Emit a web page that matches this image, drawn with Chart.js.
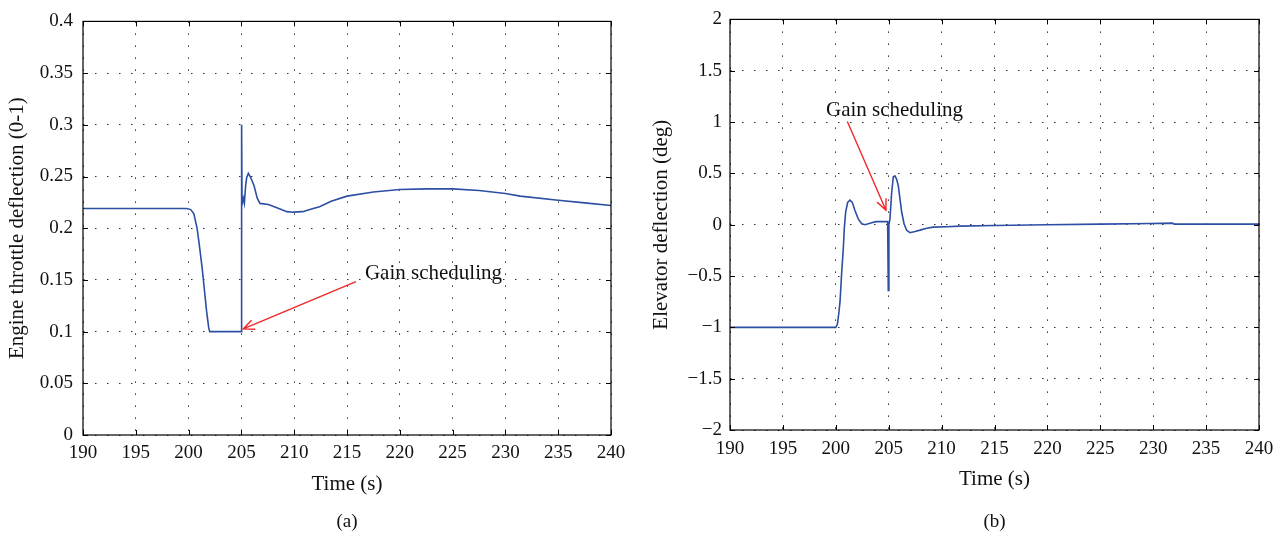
<!DOCTYPE html>
<html>
<head>
<meta charset="utf-8">
<script src="https://cdn.jsdelivr.net/npm/chart.js@4/dist/chart.umd.min.js"></script>
<style>
  body { margin: 0; background: #fff; }
  .panel { position: absolute; top: 0; width: 642px; height: 538px; }
</style>
</head>
<body>
<div class="panel" style="left:0"><canvas id="chartA" width="642" height="538"></canvas></div>
<div class="panel" style="left:642px"><canvas id="chartB" width="642" height="538"></canvas></div>
<script>
// (a) engine throttle deflection
const timeA = [190, 199.8, 200.2, 200.5, 200.8, 201.0, 201.3, 201.5, 201.7, 201.9, 202.0, 205.0,
  205.02, 205.06, 205.18, 205.28, 205.4, 205.5, 205.66, 205.88, 206.2, 206.5, 206.76, 207.55,
  208.3, 209.3, 209.9, 210.8, 211.8, 212.4, 213.5, 215, 217.5, 220, 222.5, 225, 227.5, 230,
  231.4, 235, 237.5, 240];
const throttle = [0.219, 0.219, 0.218, 0.214, 0.200, 0.185, 0.160, 0.140, 0.120, 0.104, 0.100, 0.100,
  0.300, 0.223, 0.229, 0.224, 0.241, 0.249, 0.253, 0.249, 0.241, 0.229, 0.224, 0.223,
  0.220, 0.216, 0.2155, 0.216, 0.219, 0.2207, 0.226, 0.231, 0.235, 0.2375, 0.238, 0.238, 0.2365, 0.2335,
  0.231, 0.227, 0.2245, 0.222];

// (b) elevator deflection
const timeB = [190, 200.0, 200.15, 200.3, 200.4, 200.56, 200.71, 200.8, 200.93, 201.12, 201.34, 201.56,
  201.81, 202.12, 202.45, 202.76, 203.07, 203.39, 203.8, 204.9, 204.96, 205.02, 205.12, 205.28,
  205.44, 205.6, 205.75, 205.91, 206.07, 206.23, 206.45, 206.7, 207.01, 207.49, 207.96, 208.59,
  209.2, 210.5, 211.7, 215, 220, 225, 229.8, 231.8, 232.0, 240];
const elevator = [-1, -1, -0.97, -0.85, -0.75, -0.457, -0.232, -0.04, 0.121, 0.218, 0.24, 0.218,
  0.138, 0.057, 0.009, 0.0, 0.009, 0.018, 0.03, 0.03, -0.64, 0.0, 0.057, 0.314,
  0.468, 0.475, 0.442, 0.378, 0.25, 0.121, 0.009, -0.055, -0.078, -0.066, -0.053, -0.034,
  -0.024, -0.02, -0.014, -0.008, 0.0, 0.006, 0.012, 0.015, 0.006, 0.006];

const xTicks = [190, 195, 200, 205, 210, 215, 220, 225, 230, 235, 240];
const yTicksA = [0, 0.05, 0.1, 0.15, 0.2, 0.25, 0.3, 0.35, 0.4];
const yTicksB = [-2, -1.5, -1, -0.5, 0, 0.5, 1, 1.5, 2];

const serif = '"Liberation Serif", "DejaVu Serif", serif';

const framePlugin = {
  id: 'frame',
  afterDraw(chart, args, opts) {
    const { ctx, chartArea: a, scales: { x, y } } = chart;
    ctx.save();
    ctx.strokeStyle = '#000';
    ctx.lineWidth = 1.2;
    ctx.strokeRect(a.left, a.top, a.width, a.height);
    // inward tick marks on all four sides
    ctx.lineWidth = 1;
    ctx.beginPath();
    xTicks.forEach(v => {
      const px = Math.round(x.getPixelForValue(v)) + 0.5;
      ctx.moveTo(px, a.bottom); ctx.lineTo(px, a.bottom - 5);
      ctx.moveTo(px, a.top); ctx.lineTo(px, a.top + 5);
    });
    opts.yTicks.forEach(v => {
      const py = Math.round(y.getPixelForValue(v)) + 0.5;
      ctx.moveTo(a.left, py); ctx.lineTo(a.left + 5, py);
      ctx.moveTo(a.right, py); ctx.lineTo(a.right - 5, py);
    });
    ctx.stroke();

    // annotation arrow
    const n = opts.note;
    const x1 = x.getPixelForValue(n.from[0]), y1 = y.getPixelForValue(n.from[1]);
    const x2 = x.getPixelForValue(n.to[0]), y2 = y.getPixelForValue(n.to[1]);
    const ang = Math.atan2(y2 - y1, x2 - x1);
    ctx.strokeStyle = '#f02828';
    ctx.lineWidth = 1.4;
    ctx.beginPath();
    ctx.moveTo(x1, y1); ctx.lineTo(x2, y2);
    ctx.moveTo(x2 - 12 * Math.cos(ang - 0.42), y2 - 12 * Math.sin(ang - 0.42));
    ctx.lineTo(x2, y2);
    ctx.lineTo(x2 - 12 * Math.cos(ang + 0.42), y2 - 12 * Math.sin(ang + 0.42));
    ctx.stroke();
    ctx.fillStyle = '#111';
    ctx.font = '21px ' + serif;
    ctx.textAlign = 'left';
    ctx.textBaseline = 'middle';
    ctx.fillText(n.text, x.getPixelForValue(n.at[0]), y.getPixelForValue(n.at[1]));

    // caption under the panel
    ctx.textAlign = 'center';
    ctx.font = '19px ' + serif;
    ctx.fillText(opts.caption, (a.left + a.right) / 2, 522);
    ctx.restore();
  }
};

function makeChart(id, times, values, cfg) {
  return new Chart(document.getElementById(id), {
    type: 'line',
    data: {
      datasets: [{
        data: times.map((t, i) => ({ x: t, y: values[i] })),
        borderColor: '#2c4ea3',
        borderWidth: 1.6,
        pointRadius: 0,
        tension: 0,
        fill: false
      }]
    },
    options: {
      responsive: false,
      animation: false,
      layout: { padding: { top: cfg.top, right: cfg.right, left: 0, bottom: 0 } },
      plugins: {
        legend: { display: false },
        tooltip: { enabled: false },
        frame: { yTicks: cfg.yTicks, note: cfg.note, caption: cfg.caption }
      },
      scales: {
        x: {
          type: 'linear',
          min: 190, max: 240,
          afterFit: s => { s.height = cfg.xHeight; },
          afterBuildTicks: s => { s.ticks = xTicks.map(v => ({ value: v })); },
          grid: { color: '#333', lineWidth: 1, drawTicks: false },
          border: { display: false, dash: [1.5, 10.5] },
          ticks: { color: '#111', font: { family: serif, size: 19 }, padding: cfg.xPad, maxRotation: 0 },
          title: { display: true, text: 'Time (s)', color: '#111', font: { family: serif, size: 21 },
            padding: { top: 0, bottom: cfg.xTitlePad } }
        },
        y: {
          min: cfg.yTicks[0], max: cfg.yTicks[cfg.yTicks.length - 1],
          afterFit: s => { s.width = cfg.yWidth; },
          afterBuildTicks: s => { s.ticks = cfg.yTicks.map(v => ({ value: v })); },
          grid: { color: '#333', lineWidth: 1, drawTicks: false },
          border: { display: false, dash: [1.5, 10.5] },
          ticks: {
            color: '#111', font: { family: serif, size: 19 }, padding: cfg.yPad,
            callback: v => String(+v.toFixed(2)).replace('-', '\u2212')
          },
          title: { display: true, text: cfg.yTitle, color: '#111', font: { family: serif, size: 21 },
            padding: { top: cfg.yTitlePad, bottom: 0 } }
        }
      }
    },
    plugins: [framePlugin]
  });
}

makeChart('chartA', timeA, throttle, {
  top: 19, right: 31, xHeight: 103, yWidth: 83, xPad: 7, yPad: 10, xTitlePad: 41, yTitlePad: 5,
  yTicks: yTicksA, yTitle: 'Engine throttle deflection (0-1)', caption: '(a)',
  note: { text: 'Gain scheduling', at: [216.7, 0.156], from: [215.85, 0.1484], to: [205.18, 0.1026] }
});

makeChart('chartB', timeB, elevator, {
  top: 15, right: 25, xHeight: 108, yWidth: 88, xPad: 8, yPad: 8, xTitlePad: 46, yTitlePad: 7,
  yTicks: yTicksB, yTitle: 'Elevator deflection (deg)', caption: '(b)',
  note: { text: 'Gain scheduling', at: [199.07, 1.114], from: [201.09, 1.005], to: [204.74, 0.141] }
});
</script>
</body>
</html>
